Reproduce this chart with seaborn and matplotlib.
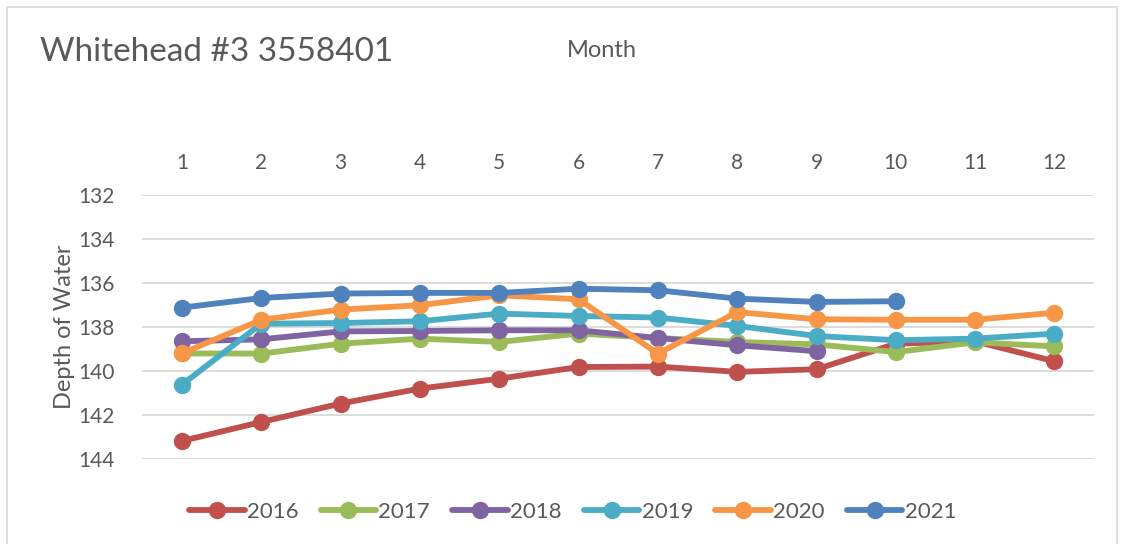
import numpy as np
import pandas as pd
import matplotlib.pyplot as plt
import seaborn as sns
from matplotlib.patches import Rectangle

# Data (depth of water, by month)
months = list(range(1, 13))
years = ["2016", "2017", "2018", "2019", "2020", "2021"]
d2016 = [143.18, 142.32, 141.48, 140.80, 140.35, 139.82, 139.80, 140.04, 139.92, 138.76, 138.65, 139.56]
d2017 = [139.20, 139.21, 138.76, 138.53, 138.68, 138.30, 138.50, 138.68, 138.79, 139.14, 138.70, 138.88]
d2018 = [138.65, 138.56, 138.20, 138.18, 138.15, 138.15, 138.50, 138.83, 139.10]
d2019 = [140.62, 137.85, 137.82, 137.74, 137.39, 137.50, 137.57, 137.95, 138.41, 138.60, 138.53, 138.30]
d2020 = [139.20, 137.67, 137.21, 137.01, 136.56, 136.74, 139.21, 137.32, 137.65, 137.67, 137.67, 137.35]
d2021 = [137.12, 136.68, 136.48, 136.45, 136.45, 136.26, 136.33, 136.71, 136.86, 136.83]
colors = ["#C0504D", "#9BBB59", "#8064A2", "#4BACC6", "#F79646", "#4F81BD"]

series = [d2016, d2017, d2018, d2019, d2020, d2021]
rows = []
for yr, vals in zip(years, series):
    for m, v in zip(months, vals):
        rows.append({"month": m, "depth": v, "year": yr})
df = pd.DataFrame(rows)

sns.set_style("white")
plt.rcParams["font.family"] = ["Lato", "DejaVu Sans"]
txt = "#595959"

fig = plt.figure(figsize=(11.21, 5.44), dpi=100)
ax = fig.add_axes([0.127, 0.1563, 0.849, 0.4852])

sns.lineplot(data=df, x="month", y="depth", hue="year", palette=colors,
             marker="o", markersize=12.5, markeredgewidth=0, linewidth=4.2,
             ax=ax)

ax.set_xlim(0.5, 12.5)
ax.set_ylim(144, 132)
ax.set_xticks(months)
ax.set_yticks(np.arange(132, 145, 2))
ax.xaxis.tick_top()
ax.tick_params(axis="both", length=0, labelsize=15, colors=txt)
ax.tick_params(axis="x", pad=16)
ax.tick_params(axis="y", pad=20)
ax.grid(axis="y", color="#D9D9D9", linewidth=1.3)
ax.grid(axis="x", visible=False)
for s in ax.spines.values():
    s.set_visible(False)
ax.set_xlabel("")
ax.set_ylabel("Depth of Water", fontsize=17, color=txt, labelpad=2)

handles, labels = ax.get_legend_handles_labels()
ax.legend(handles, labels, loc="center", bbox_to_anchor=(0.452, -0.2), ncol=6,
          frameon=False, fontsize=16, labelcolor=txt, handlelength=2.5,
          handletextpad=0.1, columnspacing=1.0)

fig.text(0.036, 0.905, "Whitehead #3 3558401", fontsize=24, color=txt, va="center")
fig.text(0.537, 0.908, "Month", fontsize=17, color=txt, ha="center", va="center")
fig.patches.append(Rectangle((0.006, -0.02), 0.99, 1.007, transform=fig.transFigure,
                             fill=False, edgecolor="#D9D9D9", linewidth=1.2))

fig.savefig("out.png", dpi=100)
